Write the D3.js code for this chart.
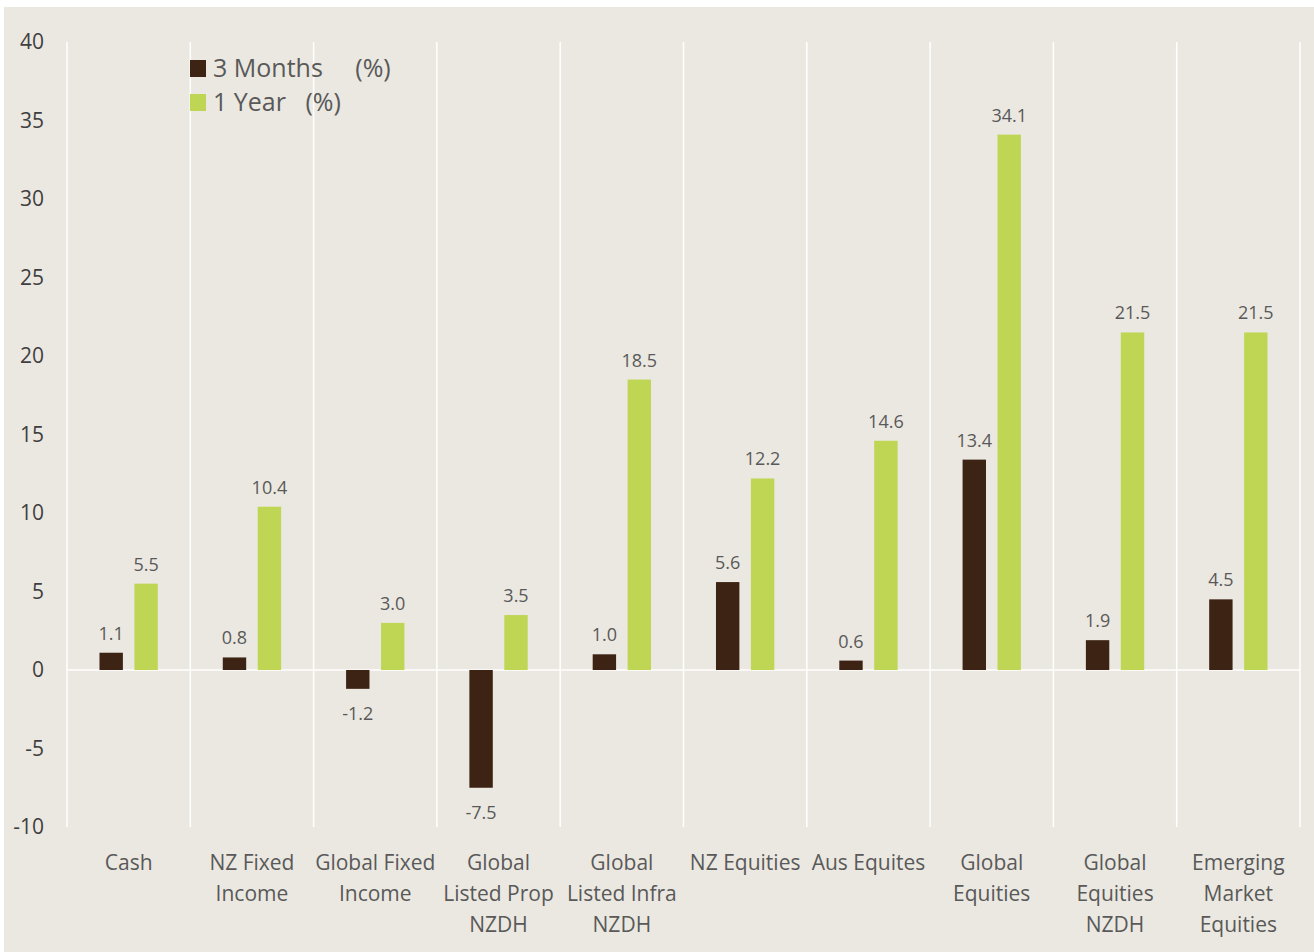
<!DOCTYPE html>
<html>
<head>
<meta charset="utf-8">
<script src="https://cdn.jsdelivr.net/npm/d3@7"></script>
<style>
  body { margin: 0; background: #fff; }
  svg { display: block; }
  text { font-family: "Open Sans", "Noto Sans", sans-serif; }
</style>
</head>
<body>
<div id="chart"></div>
<script>
const categories = [
    ["Cash"],
    ["NZ Fixed", "Income"],
    ["Global Fixed", "Income"],
    ["Global", "Listed Prop", "NZDH"],
    ["Global", "Listed Infra", "NZDH"],
    ["NZ Equities"],
    ["Aus Equites"],
    ["Global", "Equities"],
    ["Global", "Equities", "NZDH"],
    ["Emerging", "Market", "Equities"]
];
const seriesNames = ["3 Months     (%)", "1 Year   (%)"];
const threeMonths = [1.1, 0.8, -1.2, -7.5, 1.0, 5.6, 0.6, 13.4, 1.9, 4.5];
const oneYear = [5.5, 10.4, 3.0, 3.5, 18.5, 12.2, 14.6, 34.1, 21.5, 21.5];
const yTicks = [-10, -5, 0, 5, 10, 15, 20, 25, 30, 35, 40];
const colors = ["#3d2314", "#bfd655"];

const width = 1314, height = 952;
const marginLeft = 67, marginRight = 14, marginTop = 42, marginBottom = 125;

const svg = d3.select('#chart').append('svg')
    .attr('width', width)
    .attr('height', height);

// background panel
svg.append('rect')
    .attr('x', 4).attr('y', 7)
    .attr('width', width - 4).attr('height', height - 7)
    .attr('fill', '#ebe8e1');

const keys = d3.range(categories.length);
const x0 = d3.scaleBand()
    .domain(keys)
    .range([marginLeft, width - marginRight])
    .padding(0);

const x1 = d3.scaleBand()
    .domain([0, 1])
    .range([0, x0.bandwidth()])
    .paddingInner(0.33)
    .paddingOuter(0.93);

const y = d3.scaleLinear()
    .domain([-10, 40])
    .range([height - marginBottom, marginTop]);

// vertical separators
const edges = keys.map(i => x0(i)).concat([x0(keys.length - 1) + x0.bandwidth()]);
svg.append('g')
    .selectAll('line')
    .data(edges)
    .join('line')
    .attr('x1', d => d).attr('x2', d => d)
    .attr('y1', y(40)).attr('y2', y(-10))
    .attr('stroke', '#ffffff')
    .attr('stroke-width', 1.5);

// zero line
svg.append('line')
    .attr('x1', marginLeft).attr('x2', width - marginRight)
    .attr('y1', y(0)).attr('y2', y(0))
    .attr('stroke', '#ffffff')
    .attr('stroke-width', 1.5);

// y axis labels (plain hyphen for negatives)
const yAxis = d3.axisLeft(y)
    .tickValues(yTicks)
    .tickSize(0)
    .tickPadding(0)
    .tickFormat(d => String(d));
svg.append('g')
    .attr('transform', `translate(44,0)`)
    .call(yAxis)
    .call(g => g.select('.domain').remove())
    .call(g => g.selectAll('text')
        .attr('fill', '#3f3f3f')
        .style('font-size', '21px')
        .style('font-family', '"Open Sans", sans-serif'));

// bars
const rows = keys.map(i => ({ i, values: [threeMonths[i], oneYear[i]] }));
const groups = svg.append('g')
    .selectAll('g')
    .data(rows)
    .join('g')
    .attr('transform', d => `translate(${x0(d.i)},0)`);

groups.selectAll('rect')
    .data(d => d.values.map((v, s) => ({ v, s })))
    .join('rect')
    .attr('x', d => x1(d.s))
    .attr('width', x1.bandwidth())
    .attr('y', d => y(Math.max(0, d.v)))
    .attr('height', d => Math.abs(y(d.v) - y(0)))
    .attr('fill', d => colors[d.s]);

groups.selectAll('text.val')
    .data(d => d.values.map((v, s) => ({ v, s })))
    .join('text')
    .attr('class', 'val')
    .attr('x', d => x1(d.s) + x1.bandwidth() / 2)
    .attr('y', d => d.v >= 0 ? y(d.v) - 13 : y(d.v) + 31)
    .attr('text-anchor', 'middle')
    .attr('fill', '#595959')
    .style('font-size', '18px')
    .text(d => d.v.toFixed(1));

// category labels
const catLabels = svg.append('g')
    .selectAll('text')
    .data(keys)
    .join('text')
    .attr('x', i => x0(i) + x0.bandwidth() / 2)
    .attr('y', 870)
    .attr('text-anchor', 'middle')
    .attr('fill', '#595959')
    .style('font-size', '21px');

catLabels.selectAll('tspan')
    .data(i => categories[i].map(t => ({ t, x: x0(i) + x0.bandwidth() / 2 })))
    .join('tspan')
    .attr('x', d => d.x)
    .attr('dy', (d, j) => j === 0 ? 0 : 31)
    .text(d => d.t);

// legend
const legend = svg.append('g')
    .selectAll('g')
    .data(seriesNames)
    .join('g')
    .attr('transform', (d, i) => `translate(190,${60 + i * 34})`);

legend.append('rect')
    .attr('width', 16).attr('height', 17)
    .attr('fill', (d, i) => colors[i]);

legend.append('text')
    .attr('x', 23)
    .attr('y', 17)
    .attr('fill', '#595959')
    .style('font-size', '25px')
    .style('white-space', 'pre')
    .attr('xml:space', 'preserve')
    .text(d => d);
</script>
</body>
</html>
